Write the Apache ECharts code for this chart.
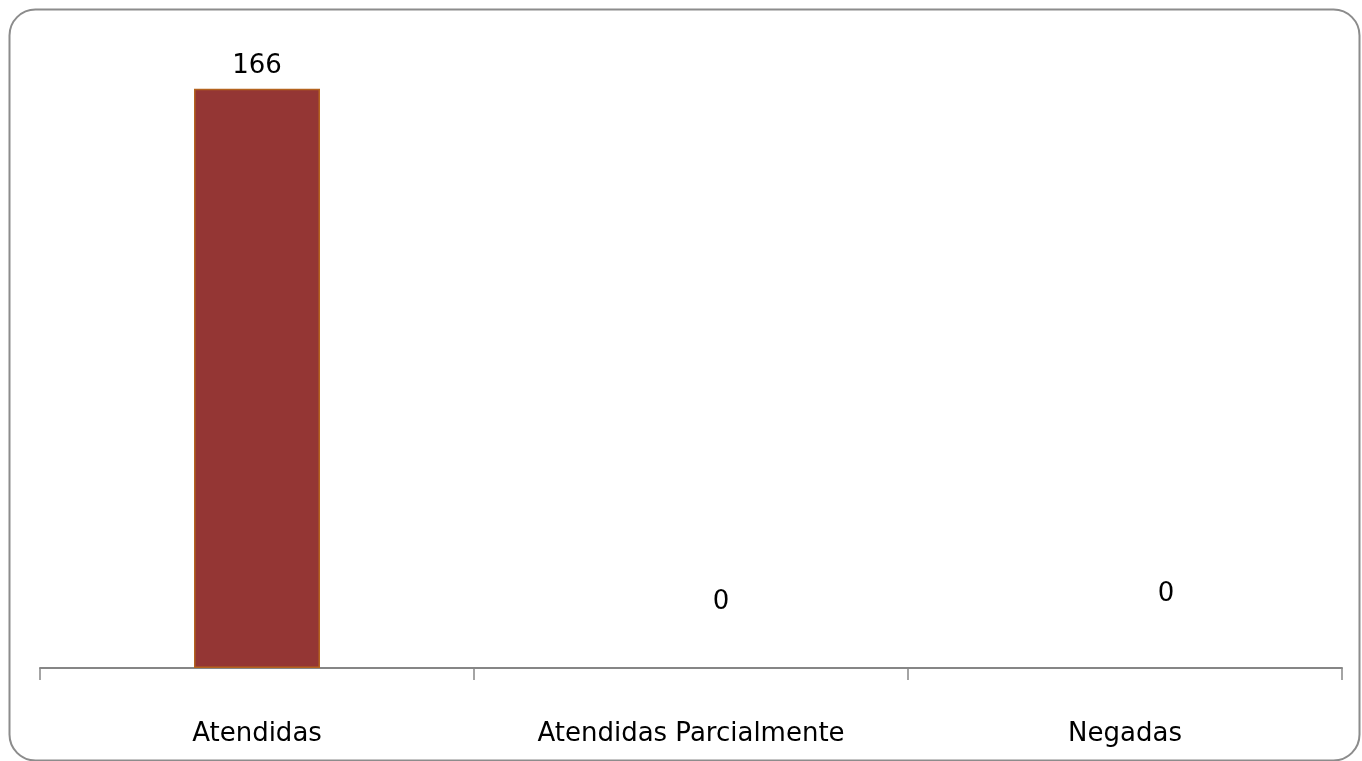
<!DOCTYPE html>
<html>
<head>
<meta charset="utf-8">
<script src="https://cdn.jsdelivr.net/npm/echarts@6/dist/echarts.min.js"></script>
<style>
html,body{margin:0;padding:0;background:#fff;}
#c{width:1362px;height:761px;}
</style>
</head>
<body>
<div id="c"></div>
<script>
const categories = ['Atendidas', 'Atendidas Parcialmente', 'Negadas'];
const values = [166, 0, 0];

const labelOffsets = [[0, 0], [30, -43], [41, -51]];

const chart = echarts.init(document.getElementById('c'));
chart.setOption({
  animation: false,
  backgroundColor: '#ffffff',
  textStyle: { fontFamily: 'DejaVu Sans' },
  graphic: [{
    type: 'rect',
    shape: { x: 9.5, y: 9.5, width: 1350, height: 751, r: 26 },
    style: { fill: 'none', stroke: '#8c8c8c', lineWidth: 2 },
    z: 100
  }],
  grid: { left: 40, right: 20, top: 40, bottom: 93 },
  xAxis: {
    type: 'category',
    data: categories,
    axisLine: { lineStyle: { color: '#868686', width: 2 } },
    axisTick: { show: true, length: 12, lineStyle: { color: '#868686', width: 1.5 } },
    axisLabel: { color: '#000', fontSize: 26, margin: 53, fontFamily: 'DejaVu Sans' }
  },
  yAxis: {
    type: 'value',
    min: 0,
    max: 180,
    show: false,
    splitLine: { show: false }
  },
  series: [{
    type: 'bar',
    data: values.map((v, i) => ({
      value: v,
      itemStyle: { borderWidth: v > 0 ? 1.5 : 0 },
      label: { offset: labelOffsets[i] }
    })),
    barWidth: 126,
    itemStyle: { color: '#943634', borderColor: '#b4631f', borderWidth: 1.5 },
    label: {
      show: true,
      position: 'top',
      distance: 10,
      color: '#000',
      fontSize: 26,
      fontFamily: 'DejaVu Sans'
    },
    z: 1
  }]
});
</script>
</body>
</html>
